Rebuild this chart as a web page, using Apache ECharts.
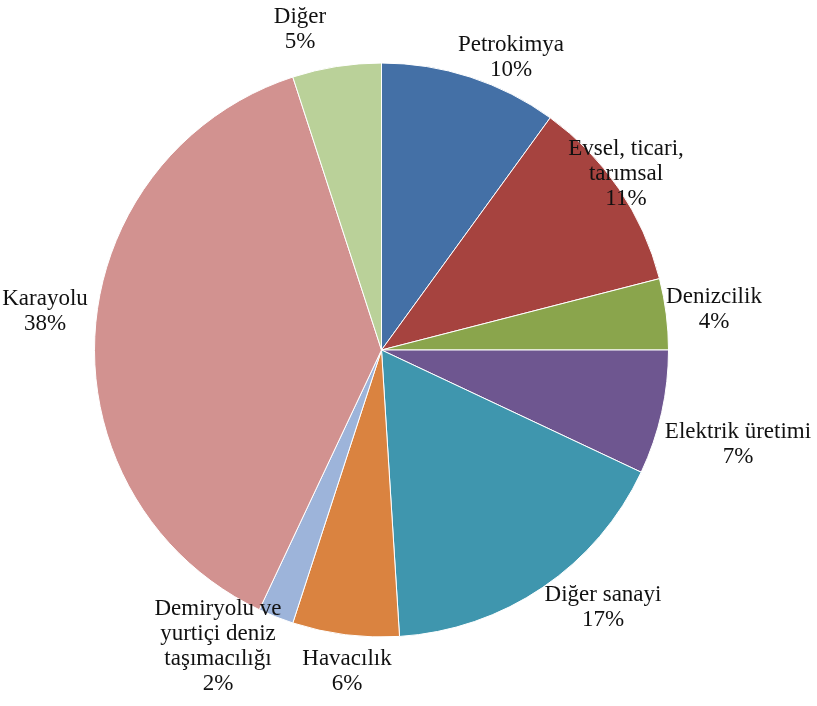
<!DOCTYPE html>
<html>
<head>
<meta charset="utf-8">
<style>
  html, body { margin: 0; padding: 0; background: #fff; }
  #chart { width: 817px; height: 706px; }
</style>
<script src="https://cdn.jsdelivr.net/npm/echarts@6/dist/echarts.min.js"></script>
</head>
<body>
<div id="chart"></div>
<script>
// Sector shares (%), clockwise from 12 o'clock
const categories = [
  'Petrokimya',
  'Evsel, ticari,\ntarımsal',
  'Denizcilik',
  'Elektrik üretimi',
  'Diğer sanayi',
  'Havacılık',
  'Demiryolu ve\nyurtiçi deniz\ntaşımacılığı',
  'Karayolu',
  'Diğer'
];
const shares = [10, 11, 4, 7, 17, 6, 2, 38, 5];

const colors = ['#4470A6', '#A6433F', '#8AA54C', '#6E5690', '#3F96AE', '#DA8340', '#9DB4DA', '#D29290', '#BAD199'];

// Label anchor points (label centres) in pixels
const labelAnchors = [
  [511, 57], [626, 174], [714, 309], [738, 444], [603, 607],
  [347, 671], [218, 646], [45, 311], [300, 29]
];

const chart = echarts.init(document.getElementById('chart'));
chart.setOption({
  animation: false,
  color: colors,
  series: [{
    type: 'pie',
    center: [381.5, 350],
    radius: 287,
    startAngle: 90,
    clockwise: true,
    data: categories.map((name, i) => ({ name, value: shares[i] })),
    itemStyle: { borderColor: '#ffffff', borderWidth: 1 },
    label: {
      show: true,
      position: 'outside',
      alignTo: 'none',
      overflow: 'none',
      formatter: p => p.name + '\n' + p.value + '%',
      fontFamily: '"Liberation Serif", "DejaVu Serif", serif',
      fontSize: 23,
      lineHeight: 25,
      color: '#111',
      align: 'center'
    },
    labelLine: { show: false },
    labelLayout: params => {
      const a = labelAnchors[params.dataIndex];
      return { x: a[0], y: a[1], align: 'center', verticalAlign: 'middle' };
    },
    emphasis: { disabled: true }
  }]
});
</script>
</body>
</html>
